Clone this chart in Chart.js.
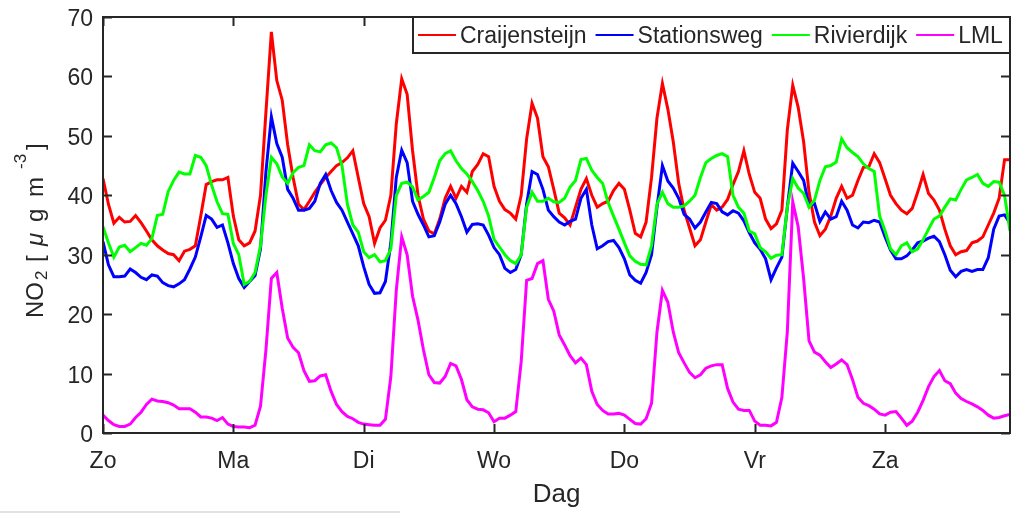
<!DOCTYPE html>
<html>
<head>
<meta charset="utf-8">
<script src="https://cdn.jsdelivr.net/npm/chart.js@4.4.1/dist/chart.umd.min.js"></script>
<style>
  html, body { margin: 0; padding: 0; background: #fff; }
  #wrap { width: 1018px; height: 517px; }
</style>
</head>
<body>
<div id="wrap"><canvas id="myChart" width="1018" height="517"></canvas></div>
<script>
// hourly NO2 over one week (Sunday .. Saturday)
const days = ['Zo', 'Ma', 'Di', 'Wo', 'Do', 'Vr', 'Za'];
const yTicks = [0, 10, 20, 30, 40, 50, 60, 70];
const seriesNames = ['Craijensteijn', 'Stationsweg', 'Rivierdijk', 'LML'];

const craijensteijn = [
  42.8, 38.5, 35.3, 36.3, 35.5, 35.6, 36.6, 35.4, 34, 32.5, 31.5, 30.8, 30.2, 30.0, 29.0, 30.6, 30.9, 31.5, 36.5, 41.8, 42.3, 42.6, 42.6, 43.0,
  36.5, 32.5, 31.5, 32, 34, 40, 54, 67.5, 59.3, 56, 48.5, 43, 38.5, 37.6, 39, 40.5, 41.8, 43, 44, 45, 45.5, 46.3, 47.5, 43,
  38.6, 36.4, 31.9, 34.5, 35.8, 40, 52, 59.6, 57, 47.5, 40, 36, 34, 33.5, 36, 39.5, 41.5, 39.5, 41.5, 40.5, 44, 45.2, 47, 46.5,
  41.5, 39, 37.6, 37, 36, 40, 49.5, 55.5, 53, 46.5, 44.8, 41, 37, 36.2, 35, 38, 41, 42.8, 40, 38, 38.6, 39, 40.8, 42,
  41, 37.5, 33.6, 33, 35.5, 43, 53, 58.8, 54.5, 49, 42, 37.5, 34.5, 31.5, 32.5, 35.5, 38.4, 37.5, 38, 39.3, 41.8, 44, 47.5, 43.5,
  40.5, 39.5, 36, 34.4, 35.2, 37.5, 51, 58.5, 54.8, 49, 40.5, 35.5, 33.2, 34.3, 36.5, 39.5, 41.5, 39.5, 40, 42.5, 44.7, 44.8, 47, 45.5,
  42.8, 40, 38.6, 37.5, 36.9, 37.8, 40.5, 43.5, 40.3, 39.2, 37.5, 34.3, 31.5, 30, 30.5, 30.7, 32, 32.3, 33, 35, 37, 39.5, 46, 46
];
const stationsweg = [
  32.2, 28.3, 26.3, 26.3, 26.4, 27.6, 27, 26.2, 25.8, 26.6, 26.4, 25.3, 24.8, 24.6, 25.1, 25.8, 27.6, 29.6, 33, 36.6, 36, 34.6, 35, 32,
  28.5, 26, 24.5, 25.5, 26.5, 31, 44, 53.2, 48.7, 46.4, 41, 39.5, 37.5, 37.5, 37.8, 39, 42, 43.5, 40.8, 38.8, 37.5, 35.5, 33.5, 31.5,
  28, 25, 23.5, 23.6, 25.5, 32, 43, 47.6, 45.5, 39, 36.8, 35, 33, 33.2, 35.5, 38.5, 40, 38.6, 36.4, 33.8, 35.1, 35.2, 35, 33.3,
  31.2, 30, 27.7, 27, 27.5, 30, 38.5, 44, 43.5, 41, 37.5, 36.4, 35.5, 35, 35.6, 36, 39.5, 41, 35, 31, 31.5, 32.2, 32.4, 31.2,
  29.3, 26.6, 25.7, 25.2, 27, 30, 38, 45, 42.4, 41.2, 39.5, 36.8, 36, 34.5, 35.5, 37.2, 38.8, 38.6, 37.2, 36.7, 37.4, 37, 35.7, 33.7,
  32, 30.9, 29.3, 25.8, 27.8, 29.6, 38, 45.4, 44, 42.5, 38.2, 38.6, 35.6, 37.2, 36, 36.4, 39, 37.5, 35, 34.5, 35.5, 35.4, 35.8, 35.5,
  33, 30.8, 29.3, 29.3, 29.8, 30.8, 32, 32.3, 32.8, 33.1, 32.2, 30, 27.4, 26.3, 27.2, 27.5, 27.2, 27.5, 27.5, 29.5, 34.3, 36.5, 36.7, 35.3
];
const rivierdijk = [
  34.7, 32, 29.6, 31.3, 31.6, 30.5, 31.2, 31.9, 31.6, 32.7, 36.6, 36.8, 40.6, 42.5, 43.9, 43.6, 43.6, 46.7, 46.4, 45, 41.7, 38.9, 36.9, 36.8,
  31.9, 30, 25, 25.5, 27, 31.5, 40, 46.4, 45.3, 43.1, 42, 43.8, 44.7, 45, 48.5, 47.5, 47.3, 48.5, 48.8, 48, 45, 38.5, 35, 33.8,
  30.5, 29.5, 30, 28.8, 29, 31, 40, 42, 42.2, 41.4, 39.2, 39.8, 40.5, 43, 45.8, 47, 47.5, 45.8, 44.5, 43.6, 42.3, 40.8, 39, 36.5,
  32.6, 31.3, 30, 29, 28.5, 30, 38, 40.5, 39, 39, 39.5, 38.9, 38.8, 39.5, 41.4, 42.5, 46, 46.2, 44.2, 43, 42, 38.8, 36.5, 34.3,
  32, 29.8, 28.9, 28.4, 28.3, 31.5, 38.5, 40.5, 38.6, 38, 38, 38.2, 39, 40, 43, 45.5, 46.2, 46.7, 47, 46.5, 40, 38, 37, 34,
  33.5, 31.2, 30.5, 29.4, 29.9, 30, 38, 42.8, 41.2, 40.3, 38, 39.2, 42.5, 44.8, 45, 45.6, 49.5, 48, 47.2, 46.5, 45.3, 44.5, 44, 36.5,
  34, 31, 30, 31.5, 32, 30.5, 31, 32.5, 34.3, 36, 36.5, 38, 39.4, 39.2, 41, 42.6, 43, 43.5, 42, 41.5, 42.3, 42.2, 40, 34
];
const lml = [
  3.0, 2.1, 1.4, 1.1, 1.1, 1.5, 2.6, 3.5, 4.8, 5.7, 5.4, 5.3, 5.1, 4.7, 4.1, 4.1, 4.1, 3.5, 2.7, 2.7, 2.5, 2.1, 2.6, 1.5,
  1.1, 1.0, 1.0, 0.9, 1.3, 4.5, 14, 26, 27, 21, 16, 14.4, 13.5, 10.5, 8.7, 8.8, 9.6, 9.8, 7, 4.8, 3.6, 2.8, 2.4, 1.8,
  1.5, 1.4, 1.3, 1.3, 2.3, 9.5, 24, 33, 30, 23, 19, 14, 9.8, 8.5, 8.4, 9.5, 11.7, 11.3, 9, 5.6, 4.4, 4, 3.9, 3.4,
  1.9, 2.5, 2.5, 3, 3.6, 12, 25.7, 26, 28.5, 29, 22.5, 20.5, 16.5, 14.8, 13, 11.8, 12.6, 11.5, 7, 4.8, 3.8, 3.2, 3.2, 3.3,
  3, 2.3, 1.6, 1.5, 2.4, 5, 17, 24, 22, 17, 13.5, 11.8, 10.2, 9.3, 9.8, 10.9, 11.3, 11.5, 11.5, 7.5, 5.2, 4, 3.8, 3.8,
  2, 1.3, 1.3, 1.2, 1.8, 6, 17, 38.9, 34.7, 26, 15.5, 13.6, 13.1, 12, 11, 11.6, 12.3, 11.5, 9, 6, 5, 4.6, 4, 3.2,
  3, 3.5, 3.6, 2.5, 1.3, 2, 3.5, 5.5, 7.8, 9.5, 10.5, 8.8, 8.3, 6.7, 5.8, 5.3, 4.9, 4.4, 3.8, 3, 2.5, 2.6, 2.9, 3.1
];

const hours = [];
for (let h = 0; h < craijensteijn.length; h++) hours.push(h);

const colors = ['#ff0000', '#0000ff', '#00ff00', '#ff00ff'];
const values = [craijensteijn, stationsweg, rivierdijk, lml];

const FONT = '"Liberation Sans", Arial, Helvetica, sans-serif';
const INK = '#262626';

// axes box, inward ticks, labels, titles and legend (MATLAB look)
const matlabFrame = {
  id: 'matlabFrame',
  beforeDraw(chart) {
    const c = chart.ctx;
    c.save();
    c.fillStyle = '#fff';
    c.fillRect(0, 0, chart.width, chart.height);
    c.restore();
  },
  afterDraw(chart) {
    const c = chart.ctx;
    const a = chart.chartArea;
    const xs = chart.scales.x, ys = chart.scales.y;
    const tl = 9;
    c.save();

    // box
    c.strokeStyle = INK;
    c.lineWidth = 2;
    c.strokeRect(a.left, a.top, a.right - a.left, a.bottom - a.top);

    // ticks
    c.beginPath();
    yTicks.forEach(v => {
      const y = Math.round(ys.getPixelForValue(v)) + 0.5;
      c.moveTo(a.left, y); c.lineTo(a.left + tl, y);
      c.moveTo(a.right, y); c.lineTo(a.right - tl, y);
    });
    days.forEach((d, i) => {
      const x = Math.round(xs.getPixelForValue(i * 24)) + 0.5;
      c.moveTo(x, a.bottom); c.lineTo(x, a.bottom - tl);
      c.moveTo(x, a.top); c.lineTo(x, a.top + tl);
    });
    c.stroke();

    // tick labels
    c.fillStyle = INK;
    c.font = '23px ' + FONT;
    c.textAlign = 'right';
    c.textBaseline = 'alphabetic';
    yTicks.forEach(v => {
      c.fillText(String(v), a.left - 10, ys.getPixelForValue(v) + 9);
    });
    c.textAlign = 'center';
    days.forEach((d, i) => {
      c.fillText(d, xs.getPixelForValue(i * 24), a.bottom + 35);
    });

    // x title
    c.font = '26px ' + FONT;
    c.fillText('Dag', (a.left + a.right) / 2, 502);

    // y title: NO2 [mu g m-3] with sub/superscript
    c.save();
    c.translate(43, 318);
    c.rotate(-Math.PI / 2);
    c.textAlign = 'left';
    const parts = [
      { t: 'NO', f: '24px ' + FONT, at: 0, dy: 0 },
      { t: '2', f: '17px ' + FONT, at: 38, dy: 4 },
      { t: '[', f: '24px ' + FONT, at: 56, dy: 0 },
      { t: 'μ', f: 'italic 24px ' + FONT, at: 72, dy: 0 },
      { t: 'g', f: '24px ' + FONT, at: 96, dy: 0 },
      { t: 'm', f: '24px ' + FONT, at: 121, dy: 0 },
      { t: '-3', f: '17px ' + FONT, at: 149, dy: -17 },
      { t: ']', f: '24px ' + FONT, at: 168, dy: 0 }
    ];
    parts.forEach(p => {
      c.font = p.f;
      c.fillText(p.t, p.at, p.dy);
    });
    c.restore();

    // legend
    const lx = 413, ly = a.top, lw = a.right - lx, lh = 36;
    c.fillStyle = '#fff';
    c.fillRect(lx, ly, lw, lh);
    c.strokeStyle = INK;
    c.lineWidth = 2;
    c.strokeRect(lx, ly, lw, lh);
    c.font = '23px ' + FONT;
    c.textAlign = 'left';
    let x = lx + 5;
    const my = ly + lh / 2;
    seriesNames.forEach((name, i) => {
      c.strokeStyle = colors[i];
      c.lineWidth = 2;
      c.beginPath();
      c.moveTo(x, my); c.lineTo(x + 38, my);
      c.stroke();
      x += 42;
      c.fillStyle = INK;
      c.fillText(name, x, my + 8);
      x += c.measureText(name).width + 9;
    });

    // faint line at the foot of the picture
    c.strokeStyle = '#e2e2e2';
    c.lineWidth = 2;
    c.beginPath();
    c.moveTo(0, 512); c.lineTo(400, 512);
    c.stroke();

    c.restore();
  }
};

const ctx = document.getElementById('myChart').getContext('2d');
new Chart(ctx, {
  type: 'line',
  data: {
    labels: hours,
    datasets: values.map((v, i) => ({
      label: seriesNames[i],
      data: v,
      borderColor: colors[i],
      backgroundColor: colors[i],
      borderWidth: 3,
      pointRadius: 0,
      tension: 0,
      fill: false,
      order: 4 - i
    }))
  },
  options: {
    responsive: false,
    animation: false,
    devicePixelRatio: 1,
    layout: { padding: { top: 17, right: 8, left: 0, bottom: 0 } },
    plugins: { legend: { display: false }, tooltip: { enabled: false } },
    scales: {
      x: {
        type: 'linear',
        min: 0,
        max: 167,
        grid: { display: false },
        border: { display: false },
        ticks: { display: false },
        afterFit: (s) => { s.height = 84; }
      },
      y: {
        min: 0,
        max: 70,
        grid: { display: false },
        border: { display: false },
        ticks: { display: false },
        afterFit: (s) => { s.width = 103; }
      }
    }
  },
  plugins: [matlabFrame]
});
</script>
</body>
</html>
